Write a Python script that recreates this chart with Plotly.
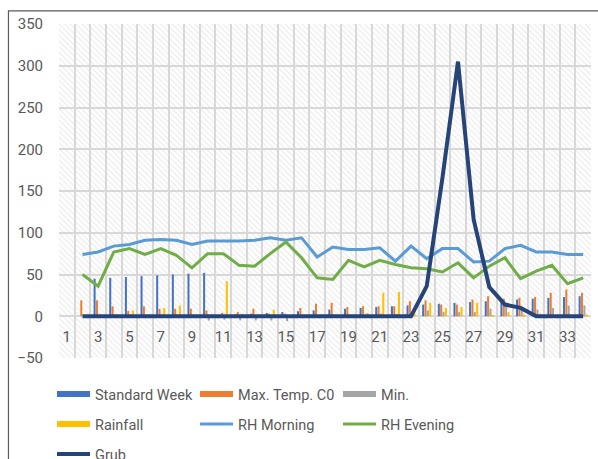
import plotly.graph_objects as go

# ---------------- data ----------------
weeks = list(range(1, 35))
tick_values = weeks[::2]
tick_labels = [str(w) for w in tick_values]

standard_week = [None, None, 45, 46, 47, 48, 49, 50, 51, 52,
                 1, 2, 3, 4, 5, 6, 7, 8, 9, 10, 11, 12, 13, 14,
                 15, 16, 17, 18, 19, 20, 21, 22, 23, 24]
max_temp = [None, 19, 19, 12, 6.5, 12, 9, 9, 9, 7, 4, 5, 9, 3, 3, 10, 15,
            16, 11, 12, 12, 12, 18, 19, 14, 14, 20, 24, 21, 22, 23, 28, 32, 28]
min_temp = [None, None, 2, 2, 2, 2, 2, 2, 2, -5, -4, -5, -5, -5, -6, 0, 1,
            2, 2, 2, 3, 3, 3, 7, 5, 5, 5, 9, 11, 9, 8, 10, 13, 13]
rainfall = [None, None, 0, 2, 7, 2, 10, 13, 0, 0, 42, 3, 0, 8, 0, 0, 0,
            0, 2, 4, 28, 29, 3, 16, 10, 11, 16, 1, 5, 2, 3, 0, 0, 2]
rh_morning = [None, 74, 77, 84, 86, 91, 92, 91, 86, 90, 90, 90, 91, 94, 91,
              94, 71, 83, 80, 80, 82, 66, 84, 69, 81, 81, 65, 66, 81, 85,
              77, 77, 74, 74]
rh_evening = [None, 50, 36, 77, 81, 74, 81, 73, 58, 75, 75, 61, 60, 75, 89,
              70, 46, 44, 67, 59, 67, 62, 58, 57, 53, 64, 46, 60, 70, 45,
              54, 61, 39, 46]
grub = [None] + [0] * 22 + [36, 165, 305, 116, 35, 14, 10, 0, 0, 0, 0]

# ---------------- style ----------------
FONT = "Roboto"
TXT = "#595959"
GRID = "#d9d9d9"
Y_MIN, Y_MAX = -50, 350
W, H = 598, 459

fig = go.Figure()

# hatched plot-area background, one column per category
fig.add_trace(go.Bar(
    x=weeks, y=[Y_MAX - Y_MIN] * len(weeks), base=Y_MIN, width=1,
    marker=dict(color="rgba(0,0,0,0)", line=dict(width=0),
                pattern=dict(shape="\\", fgcolor="#d0d0d0", bgcolor="rgba(0,0,0,0)",
                             size=4, solidity=0.25, fillmode="overlay")),
    showlegend=False, hoverinfo="skip"))

bar_series = [
    ("Standard Week", standard_week, "#4472C4", -0.225, "legend"),
    ("Max. Temp. C0", max_temp, "#ED7D31", -0.075, "legend"),
    ("Min.", min_temp, "#A5A5A5", 0.075, "legend"),
    ("Rainfall", rainfall, "#FFC000", 0.225, "legend2"),
]
BW = 0.13
for name, vals, color, center, lg in bar_series:
    fig.add_trace(go.Bar(x=weeks, y=vals, width=BW, offset=center - BW / 2,
                         marker=dict(color=color, line=dict(width=0)),
                         name=name, legendgroup=name, showlegend=False))
    fig.add_trace(go.Scatter(x=[None], y=[None], mode="lines",
                             line=dict(color=color, width=6),
                             name=name, legendgroup=name, legend=lg))

line_series = [
    ("RH Morning", rh_morning, "#5B9BD5", 3, "legend2"),
    ("RH Evening", rh_evening, "#70AD47", 3, "legend2"),
    ("Grub", grub, "#264478", 4, "legend3"),
]
for name, vals, color, w, lg in line_series:
    fig.add_trace(go.Scatter(x=weeks, y=vals, mode="lines",
                             line=dict(color=color, width=w),
                             name=name, legend=lg))

legend_common = dict(orientation="h", xanchor="left", yanchor="middle",
                     xref="container", yref="container",
                     entrywidth=95, entrywidthmode="pixels",
                     font=dict(family=FONT, size=14.5, color=TXT),
                     bgcolor="rgba(0,0,0,0)", itemwidth=33, traceorder="normal")
LX = 52 / W

fig.update_layout(
    width=W, height=H,
    margin=dict(l=59, r=7, t=24, b=101, autoexpand=False),
    paper_bgcolor="white", plot_bgcolor="white",
    barmode="overlay",
    font=dict(family=FONT, size=15, color=TXT),
    xaxis=dict(range=[0.5, 34.5], tickmode="array", tickvals=tick_values,
               ticktext=tick_labels, showgrid=False, zeroline=False,
               showline=False, ticks="", anchor="free",
               position=(0 - Y_MIN) / (Y_MAX - Y_MIN), ticklabelstandoff=10,
               minor=dict(tickmode="array",
                          tickvals=[w - 0.5 for w in weeks] + [weeks[-1] + 0.5],
                          showgrid=True, gridcolor=GRID, gridwidth=2, ticks="")),
    yaxis=dict(range=[Y_MIN, Y_MAX], tick0=0, dtick=50, showgrid=True,
               gridcolor=GRID, gridwidth=2, zeroline=False, showline=False,
               ticks="", ticklabelstandoff=15),
    legend=dict(x=LX, y=1 - 394 / H, **legend_common),
    legend2=dict(x=LX, y=1 - 424 / H, **legend_common),
    legend3=dict(x=LX, y=1 - 454 / H, **legend_common),
    shapes=[dict(type="rect", xref="paper", yref="paper",
                 x0=-0.095, x1=1.2, y0=-0.6, y1=1.039,
                 line=dict(color="#595959", width=1.2), fillcolor="rgba(0,0,0,0)",
                 layer="below")],
)

fig.write_html("out.html", config={"displayModeBar": False},
               post_script="document.body.style.margin='0';")
